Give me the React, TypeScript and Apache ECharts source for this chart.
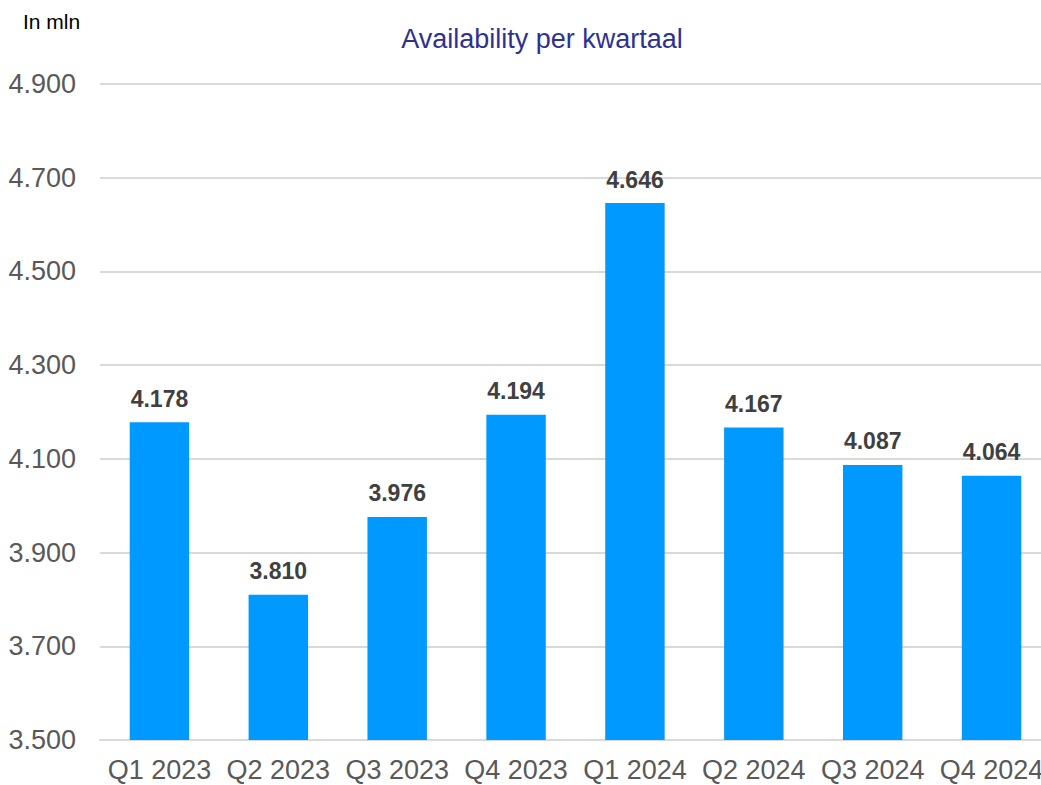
import React, { useEffect, useRef } from "react";
import * as echarts from "echarts";

const categories = ["Q1 2023", "Q2 2023", "Q3 2023", "Q4 2023", "Q1 2024", "Q2 2024", "Q3 2024", "Q4 2024"];
const values = [4.178, 3.81, 3.976, 4.194, 4.646, 4.167, 4.087, 4.064];
const chartTitle = "Availability per kwartaal";
const unitLabel = "In mln";

const fmt = (v: number) => v.toFixed(3);
const FONT = "Liberation Sans, Arial, sans-serif";

export default function App() {
  const ref = useRef<HTMLDivElement>(null);
  useEffect(() => {
    const chart = echarts.init(ref.current!, null, { renderer: "svg" });
    chart.setOption({
      animation: false,
      textStyle: { fontFamily: FONT },
      title: [
        {
          text: chartTitle,
          left: 537,
          textAlign: "center",
          top: 20,
          textStyle: { color: "#2E3192", fontSize: 27, fontWeight: "normal", fontFamily: FONT },
        },
        {
          text: unitLabel,
          left: 18,
          top: 6,
          textStyle: { color: "#000000", fontSize: 21, fontWeight: "normal", fontFamily: FONT },
        },
      ],
      grid: { left: 100, right: 0, top: 84, bottom: 45, containLabel: false },
      xAxis: {
        type: "category",
        data: categories,
        axisLine: { show: true, lineStyle: { color: "#D9D9D9", width: 2 } },
        axisTick: { show: false },
        axisLabel: { color: "#595959", fontSize: 27, margin: 16, interval: 0 },
      },
      yAxis: {
        type: "value",
        min: 3.5,
        max: 4.9,
        interval: 0.2,
        axisLine: { show: false },
        axisTick: { show: false },
        axisLabel: { color: "#595959", fontSize: 27, margin: 24, formatter: (v: number) => fmt(v) },
        splitLine: { lineStyle: { color: "#D9D9D9", width: 2 } },
      },
      series: [
        {
          type: "bar",
          data: values,
          barWidth: "50%",
          itemStyle: { color: "#0099FF" },
          label: {
            show: true,
            position: "top",
            distance: 12,
            color: "#404040",
            fontSize: 23,
            fontWeight: "bold",
            formatter: (p: any) => fmt(p.value),
          },
        },
      ],
    });
    return () => chart.dispose();
  }, []);
  return <div ref={ref} style={{ position: "fixed", left: 0, top: 0, width: 1051, height: 785, background: "#fff" }} />;
}
